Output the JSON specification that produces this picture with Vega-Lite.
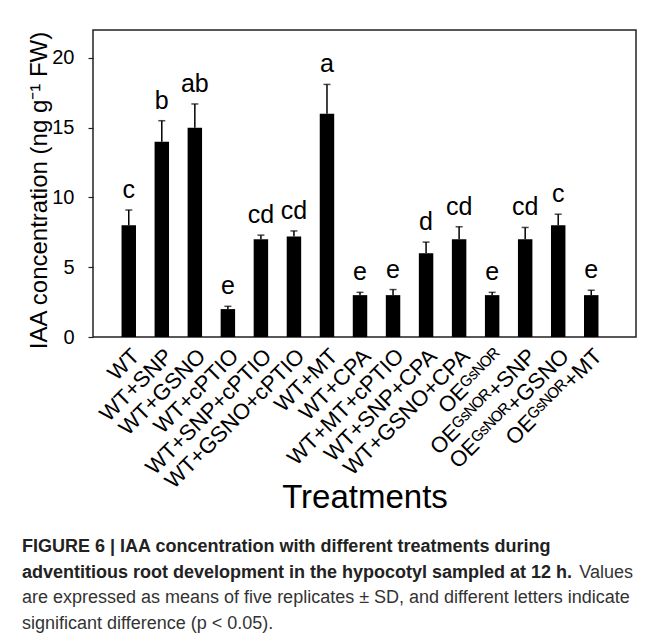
{
  "$schema": "https://vega.github.io/schema/vega-lite/v6.json",
  "background": "white",
  "padding": {"left": 22, "top": 29, "right": 0, "bottom": 0},
  "config": {"font": "Liberation Sans"},
  "spacing": 23,
  "align": "none",
  "vconcat": [
    {
      "width": 543,
      "height": 307,
      "view": {"stroke": "#222", "strokeWidth": 1.5},
      "data": {"values": [
        {"t": "WT", "mean": 8, "hi": 9.1, "sig": "c"},
        {"t": "WT+SNP", "mean": 14, "hi": 15.5, "sig": "b"},
        {"t": "WT+GSNO", "mean": 15, "hi": 16.7, "sig": "ab"},
        {"t": "WT+cPTIO", "mean": 2, "hi": 2.2, "sig": "e"},
        {"t": "WT+SNP+cPTIO", "mean": 7, "hi": 7.3, "sig": "cd"},
        {"t": "WT+GSNO+cPTIO", "mean": 7.2, "hi": 7.6, "sig": "cd"},
        {"t": "WT+MT", "mean": 16, "hi": 18.1, "sig": "a"},
        {"t": "WT+CPA", "mean": 3, "hi": 3.2, "sig": "e"},
        {"t": "WT+MT+cPTIO", "mean": 3, "hi": 3.4, "sig": "e"},
        {"t": "WT+SNP+CPA", "mean": 6, "hi": 6.8, "sig": "d"},
        {"t": "WT+GSNO+CPA", "mean": 7, "hi": 7.9, "sig": "cd"},
        {"t": "OEᴳˢᴺᴼᴿ", "mean": 3, "hi": 3.2, "sig": "e"},
        {"t": "OEᴳˢᴺᴼᴿ+SNP", "mean": 7, "hi": 7.85, "sig": "cd"},
        {"t": "OEᴳˢᴺᴼᴿ+GSNO", "mean": 8, "hi": 8.8, "sig": "c"},
        {"t": "OEᴳˢᴺᴼᴿ+MT", "mean": 3, "hi": 3.35, "sig": "e"}
      ]},
      "encoding": {
        "x": {
          "field": "t", "type": "nominal", "sort": null,
          "scale": {"paddingInner": 0.5625, "paddingOuter": 1.266, "align": 0.432},
          "title": "Treatments",
          "axis": {
            "labelAngle": -45, "labelAlign": "right", "labelBaseline": "top",
            "labelFontSize": 22, "labelColor": "black", "labelPadding": 8,
            "labelOverlap": false, "labelLimit": 400,
            "ticks": false, "domain": false,
            "titleFontSize": 33, "titleFontWeight": "normal", "titleColor": "black", "titlePadding": -11
          }
        }
      },
      "layer": [
        {
          "mark": {"type": "bar", "color": "black"},
          "encoding": {
            "y": {
              "field": "mean", "type": "quantitative",
              "scale": {"domain": [0, 22], "nice": false},
              "title": "IAA concentration (ng g⁻¹ FW)",
              "axis": {
                "values": [0, 5, 10, 15, 20], "grid": false, "domain": false,
                "tickSize": 5, "tickColor": "#222", "tickWidth": 1.2,
                "labelFontSize": 20, "labelColor": "black", "labelPadding": 14,
                "titleFontSize": 24, "titleFontWeight": "normal", "titleColor": "black",
                "titlePadding": 0, "titleY": 160
              }
            }
          }
        },
        {
          "mark": {"type": "rule", "color": "black", "strokeWidth": 1.5},
          "encoding": {"y": {"field": "mean", "type": "quantitative"}, "y2": {"field": "hi"}}
        },
        {
          "mark": {"type": "tick", "color": "black", "thickness": 1.5, "size": 7},
          "encoding": {"y": {"field": "hi", "type": "quantitative"}}
        },
        {
          "mark": {"type": "text", "baseline": "alphabetic", "dy": -12, "fontSize": 25, "color": "black"},
          "encoding": {"y": {"field": "hi", "type": "quantitative"}, "text": {"field": "sig"}}
        }
      ]
    },
    {
      "width": 543,
      "height": 77,
      "view": {"stroke": null},
      "data": {"values": [
        {"line": 1, "seg": "head", "w": "bold", "text": "FIGURE 6 | IAA concentration with different treatments during"},
        {"line": 2, "seg": "head", "w": "bold", "text": "adventitious root development in the hypocotyl sampled at 12 h."},
        {"line": 2, "seg": "tail", "w": "normal", "text": "Values"},
        {"line": 3, "seg": "head", "w": "normal", "text": "are expressed as means of five replicates ± SD, and different letters indicate"},
        {"line": 4, "seg": "head", "w": "normal", "text": "significant difference (p < 0.05)."}
      ]},
      "encoding": {
        "y": {"field": "line", "type": "ordinal", "scale": {"type": "point", "padding": 0}, "axis": null},
        "x": {"field": "seg", "type": "nominal", "scale": {"type": "point", "domain": ["head", "tail"], "range": [-71, 540], "padding": 0}, "axis": null},
        "text": {"field": "text"}
      },
      "layer": [
        {
          "transform": [{"filter": "datum.w === 'bold'"}],
          "mark": {"type": "text", "align": "left", "baseline": "middle", "fontWeight": "bold", "fontSize": 18, "color": "#222"}
        },
        {
          "transform": [{"filter": "datum.w === 'normal' && datum.seg === 'head'"}],
          "mark": {"type": "text", "align": "left", "baseline": "middle", "fontSize": 18, "color": "#333"}
        },
        {
          "transform": [{"filter": "datum.seg === 'tail'"}],
          "mark": {"type": "text", "align": "right", "baseline": "middle", "fontSize": 18, "color": "#333"}
        }
      ]
    }
  ]
}
